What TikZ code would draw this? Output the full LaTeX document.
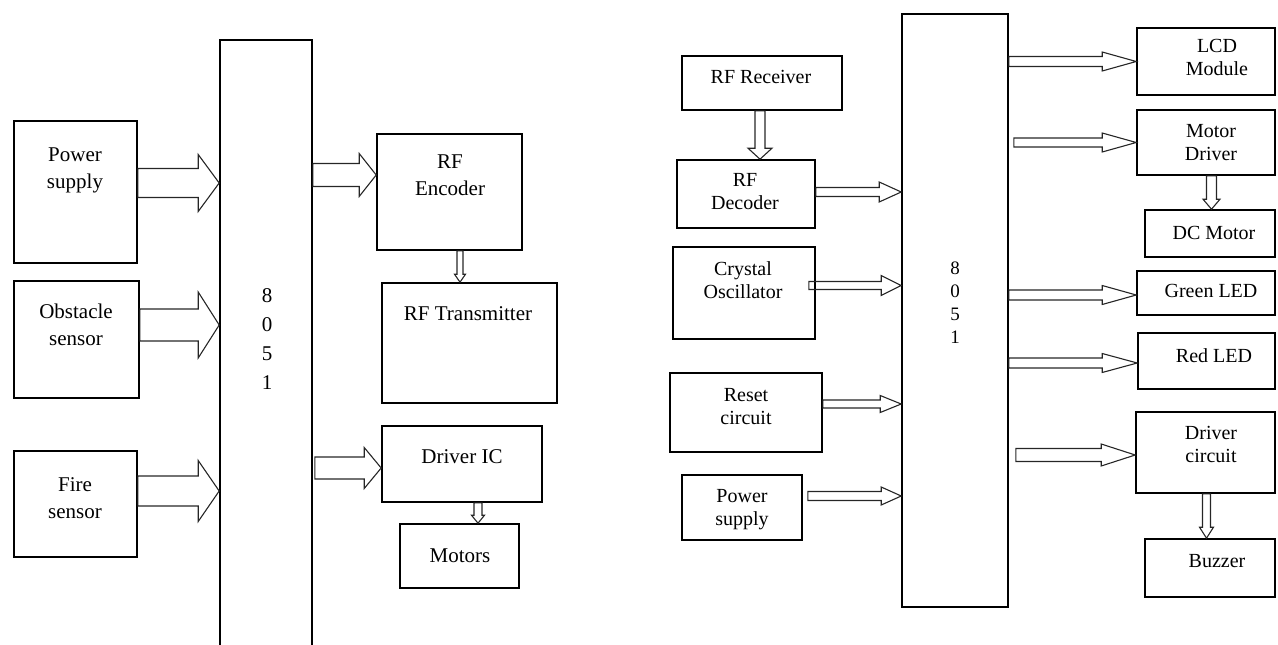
\documentclass[tikz,border=0pt]{standalone}
\usepackage{fontspec}
\setmainfont{Liberation Serif}
\usetikzlibrary{positioning,calc}

\tikzset{
  blk/.style={draw, line width=1.6pt, inner sep=0pt},
  lbl/.style={inner sep=0pt, align=center, anchor=north, font=\fontsize{21}{27}\selectfont},
  rlbl/.style={inner sep=0pt, align=center, anchor=north, font=\fontsize{20}{23}\selectfont},
  % hollow block arrows, to the right and downwards
  harrow/.style n args={3}{draw=black!85, line width=1.1pt, line join=miter, to path={let \p1=(\tikztostart), \p2=(\tikztotarget) in
    (\x1,\y1+#1) -- (\x2-#3,\y1+#1) -- (\x2-#3,\y1+#2) -- (\x2,\y2) -- (\x2-#3,\y1-#2) -- (\x2-#3,\y1-#1) -- (\x1,\y1-#1) -- cycle}},
  varrow/.style n args={3}{draw=black!85, line width=1.1pt, line join=miter, to path={let \p1=(\tikztostart), \p2=(\tikztotarget) in
    (\x1+#1,\y1) -- (\x1+#1,\y2+#3) -- (\x1+#2,\y2+#3) -- (\x2,\y2) -- (\x1-#2,\y2+#3) -- (\x1-#1,\y2+#3) -- (\x1-#1,\y1) -- cycle}}
}

\begin{document}
\begin{tikzpicture}[x=1pt,y=-1pt]
	\clip (0,0) rectangle (1278,645);

	% transmitter side
	\node[blk, minimum width=123pt, minimum height=142pt] (pwr) at (75.5,192) {};
	\node[blk, minimum width=125pt, minimum height=117pt] (obs) at (76.5,339.5) {};
	\node[blk, minimum width=123pt, minimum height=106pt] (fire) at (75.5,504) {};
	\node[blk, minimum width=92pt, minimum height=620pt] (cpuA) at (266,350) {};
	\node[blk, minimum width=145pt, minimum height=116pt] (enc) at (449.5,192) {};
	\node[blk, minimum width=175pt, minimum height=120pt] (tx) at (469.5,343) {};
	\node[blk, minimum width=160pt, minimum height=76pt] (drv) at (462,464) {};
	\node[blk, minimum width=119pt, minimum height=64pt] (mot) at (459.5,556) {};

	\node[lbl] (pwr-t) at (75,148) {Power\\supply};
	\node[lbl] (obs-t) at (76,304) {Obstacle\\sensor};
	\node[lbl] (fire-t) at (75,477) {Fire\\sensor};
	\node[lbl, font=\fontsize{21}{29}\selectfont] (cpuA-t) at (267,288) {8\\0\\5\\1};
	\node[lbl] (enc-t) at (450,155) {RF\\Encoder};
	\node[lbl] (tx-t) at (468,306) {RF Transmitter};
	\node[lbl] (drv-t) at (462,449) {Driver IC};
	\node[lbl] (mot-t) at (460,549) {Motors};

	% arrows
	\draw[harrow={14.5pt}{28.5pt}{21pt}] ($(pwr.east)+(0,-9)$) to ($(pwr.east -| cpuA.west)+(0,-9)$);
	\draw[harrow={16pt}{33pt}{21pt}] ($(obs.east)+(0,-14.5)$) to ($(obs.east -| cpuA.west)+(0,-14.5)$);
	\draw[harrow={15pt}{30.5pt}{21pt}] ($(fire.east)+(0,-13)$) to ($(fire.east -| cpuA.west)+(0,-13)$);
	\draw[harrow={11.5pt}{21.5pt}{17pt}] ($(enc.west -| cpuA.east)+(0,-17)$) to ($(enc.west)+(0,-17)$);
	\draw[harrow={11pt}{20.5pt}{17pt}] ($(drv.west -| cpuA.east)+(2,4)$) to ($(drv.west)+(0,4)$);
	\draw[varrow={3pt}{5.5pt}{8pt}] ($(enc.south)+(10.5,0)$) to ($(enc.south |- tx.north)+(10.5,0)$);
	\draw[varrow={4pt}{6.5pt}{8pt}] ($(drv.south)+(16,0)$) to ($(drv.south |- mot.north)+(16,0)$);

	% receiver side
	\node[blk, minimum width=160pt, minimum height=54pt] (rx) at (762,83) {};
	\node[blk, minimum width=138pt, minimum height=68pt] (dec) at (746,194) {};
	\node[blk, minimum width=142pt, minimum height=92pt] (xtal) at (744,293) {};
	\node[blk, minimum width=152pt, minimum height=79pt] (rst) at (746,412.5) {};
	\node[blk, minimum width=120pt, minimum height=65pt] (psu) at (742,507.5) {};
	\node[blk, minimum width=106pt, minimum height=593pt] (cpuB) at (955,310.5) {};
	\node[blk, minimum width=138pt, minimum height=67pt] (lcd) at (1206,61.5) {};
	\node[blk, minimum width=138pt, minimum height=65pt] (mdrv) at (1206,142.5) {};
	\node[blk, minimum width=130pt, minimum height=47pt] (dcm) at (1210,233.5) {};
	\node[blk, minimum width=138pt, minimum height=44pt] (grn) at (1206,293) {};
	\node[blk, minimum width=137pt, minimum height=56pt] (red) at (1206.5,361) {};
	\node[blk, minimum width=139pt, minimum height=81pt] (dcir) at (1205.5,452.5) {};
	\node[blk, minimum width=130pt, minimum height=58pt] (buz) at (1210,568) {};

	\node[rlbl] (rx-t) at (761,70.5) {RF Receiver};
	\node[rlbl] (dec-t) at (745,173.5) {RF\\Decoder};
	\node[rlbl] (xtal-t) at (743,261.5) {Crystal\\Oscillator};
	\node[rlbl] (rst-t) at (746,388.5) {Reset\\circuit};
	\node[rlbl] (psu-t) at (742,489.5) {Power\\supply};
	\node[rlbl, font=\fontsize{19}{23}\selectfont] (cpuB-t) at (955,262) {8\\0\\5\\1};
	\node[rlbl] (lcd-t) at (1217,39.5) {LCD\\Module};
	\node[rlbl] (mdrv-t) at (1211,124.5) {Motor\\Driver};
	\node[rlbl] (dcm-t) at (1214,226.5) {DC Motor};
	\node[rlbl] (grn-t) at (1211,284.5) {Green LED};
	\node[rlbl] (red-t) at (1214,348.5) {Red LED};
	\node[rlbl] (dcir-t) at (1211,426.5) {Driver\\circuit};
	\node[rlbl] (buz-t) at (1217,554.5) {Buzzer};

	% arrows
	\draw[varrow={5pt}{12pt}{11pt}] ($(rx.south)+(-2,0)$) to ($(rx.south |- dec.north)+(-2,0)$);
	\draw[harrow={4.5pt}{10pt}{22pt}] ($(dec.east)+(0,-2)$) to ($(dec.east -| cpuB.west)+(0,-2)$);
	\draw[harrow={4pt}{10pt}{20pt}] ($(xtal.east)+(-7,-7.5)$) to ($(xtal.east -| cpuB.west)+(0,-7.5)$);
	\draw[harrow={4pt}{8.5pt}{21pt}] ($(rst.east)+(0,-8.5)$) to ($(rst.east -| cpuB.west)+(0,-8.5)$);
	\draw[harrow={4.5pt}{9pt}{20pt}] ($(psu.east)+(5,-11.5)$) to ($(psu.east -| cpuB.west)+(0,-11.5)$);
	\draw[harrow={5pt}{9.5pt}{34pt}] (lcd.west -| cpuB.east) to (lcd.west);
	\draw[harrow={4.5pt}{9.5pt}{34pt}] ($(mdrv.west -| cpuB.east)+(5,0)$) to (mdrv.west);
	\draw[harrow={5pt}{9.5pt}{34pt}] ($(grn.west -| cpuB.east)+(0,2)$) to ($(grn.west)+(0,2)$);
	\draw[harrow={5pt}{9.5pt}{35pt}] ($(red.west -| cpuB.east)+(0,2)$) to ($(red.west)+(0,2)$);
	\draw[harrow={6.5pt}{11pt}{34pt}] ($(dcir.west -| cpuB.east)+(7,2.5)$) to ($(dcir.west)+(0,2.5)$);
	\draw[varrow={5pt}{8.5pt}{10pt}] ($(mdrv.south)+(5.5,0)$) to ($(mdrv.south |- dcm.north)+(5.5,0)$);
	\draw[varrow={4pt}{7pt}{11pt}] ($(dcir.south)+(1,0)$) to ($(dcir.south |- buz.north)+(1,0)$);

\end{tikzpicture}
\end{document}
